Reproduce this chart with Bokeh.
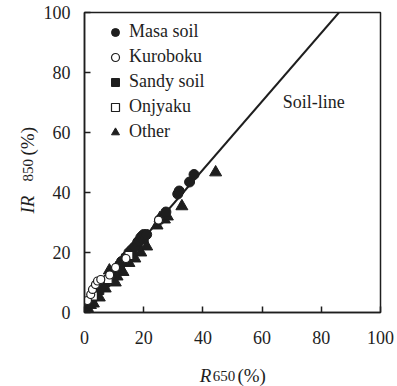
import math
from bokeh.plotting import figure
from bokeh.layouts import row, column
from bokeh.models import Label, Legend, LegendItem, FixedTicker, Range1d
from bokeh.embed import file_html
from bokeh.resources import INLINE

# Reflectance data: R650 (%) vs IR850 (%) by soil type
masa_r = [0.5, 1.5, 2.5, 4, 6, 9, 11, 12.5, 14, 15, 16, 17, 18, 18.5, 19, 19.5, 20, 21, 25.5, 27.5, 31.5, 32, 35.5, 37]
masa_ir = [2, 3, 4, 6, 8.5, 12, 15, 17, 18.5, 20, 21, 22, 23.5, 24, 25, 25.5, 26, 26, 31, 33.5, 39.5, 40.5, 43.5, 46]

kuro_r = [1, 2.1, 2.7, 3.7, 4.4, 5.5, 8.5, 10.5, 14, 25]
kuro_ir = [4, 6, 7.7, 9.3, 10.5, 11, 12.5, 15, 18, 30.8]

sandy_r = [5, 7, 10, 12, 14, 16, 18, 20]
sandy_ir = [7.5, 10, 13, 15.5, 18, 20, 22.5, 24.5]

onjyaku_r = [3, 8, 15]
onjyaku_ir = [5.5, 11, 19]

other_r = [1, 2, 3, 5, 7, 8.4, 10.4, 11, 13, 15, 17, 19, 21, 24.5, 25.5, 27, 28, 32.9, 44.3]
other_ir = [1.5, 2.5, 3, 5, 8, 14, 10, 12, 13.5, 16.5, 18, 20, 22, 29, 31.5, 31, 32, 35.4, 46.7]

# Soil line: IR = slope * R + intercept
soil_slope = 1.14
soil_intercept = 2.0

ticks = [0, 20, 40, 60, 80, 100]

FONT = "Liberation Serif"
INK = "#1e1e1e"

W, H = 397, 386
YLAB_W = 40
XLAB_H = 40
LEFT, RIGHT, TOP, BOTTOM = 42, 17, 12, 31

p = figure(width=W - YLAB_W, height=H - XLAB_H, output_backend="svg", toolbar_location=None,
           x_range=Range1d(0, 100), y_range=Range1d(0, 100),
           min_border_left=LEFT, min_border_right=RIGHT, min_border_top=TOP, min_border_bottom=BOTTOM)

p.grid.visible = False
p.outline_line_color = INK
p.outline_line_width = 1.5
p.background_fill_color = "white"
p.border_fill_color = "white"

for ax in (p.xaxis[0], p.yaxis[0]):
    ax.ticker = FixedTicker(ticks=ticks)
    ax.major_tick_in = 6
    ax.major_tick_out = 0
    ax.minor_tick_line_color = None
    ax.axis_line_color = INK
    ax.axis_line_width = 1.5
    ax.major_tick_line_color = INK
    ax.major_tick_line_width = 1.5
    ax.major_label_text_font = FONT
    ax.major_label_text_font_size = "18px"
    ax.major_label_text_color = INK
    ax.axis_label = None

p.xaxis[0].major_label_standoff = 18
p.yaxis[0].major_label_standoff = 14

# Soil line across the plotted range
line_r = [0, (100 - soil_intercept) / soil_slope]
line_ir = [soil_intercept + soil_slope * r for r in line_r]
p.line(line_r, line_ir, line_color=INK, line_width=2)

r_other = p.scatter(other_r, other_ir, marker="triangle", size=12,
                    fill_color=INK, line_color=INK)
r_sandy = p.scatter(sandy_r, sandy_ir, marker="square", size=9,
                    fill_color=INK, line_color=INK)
r_masa = p.scatter(masa_r, masa_ir, marker="circle", size=10,
                   fill_color=INK, line_color=INK)
r_onj = p.scatter(onjyaku_r, onjyaku_ir, marker="square", size=8,
                  fill_color="white", line_color=INK, line_width=1.2)
r_kuro = p.scatter(kuro_r, kuro_ir, marker="circle", size=8,
                   fill_color="white", line_color=INK, line_width=1.2)

legend_labels = ["Masa soil", "Kuroboku", "Sandy soil", "Onjyaku", "Other"]
legend = Legend(items=[LegendItem(label=lbl, renderers=[r]) for lbl, r in
                       zip(legend_labels, [r_masa, r_kuro, r_sandy, r_onj, r_other])],
                location=(21, 170), padding=0, margin=0, spacing=4,
                glyph_width=20, glyph_height=20, label_height=20, label_standoff=4,
                label_text_font=FONT, label_text_font_size="18px", label_text_color=INK,
                border_line_alpha=0, background_fill_alpha=0)
p.add_layout(legend)

p.add_layout(Label(x=67, y=70.2, text="Soil-line", text_font=FONT, text_font_size="18px",
                   text_color=INK, text_baseline="middle", text_align="left"))


def label_panel(width, height, left=0, right=0, top=0, bottom=0):
    # Blank canvas (no axes) whose data units are pixels inside its frame;
    # borders mirror the main plot so aligned frames keep the same scale
    f = figure(width=width, height=height, output_backend="svg", toolbar_location=None,
               x_range=Range1d(0, width - left - right), y_range=Range1d(0, height - top - bottom),
               x_axis_location=None, y_axis_location=None,
               min_border_left=left, min_border_right=right,
               min_border_top=top, min_border_bottom=bottom,
               outline_line_color=None)
    f.grid.visible = False
    return f


# Horizontal axis title: R650 (%)  (x measured from the plot's left axis)
xlab = label_panel(W - YLAB_W, XLAB_H, left=LEFT, right=RIGHT)
base_y = 11
xlab.add_layout(Label(x=116, y=base_y, text="R", text_font=FONT, text_font_style="italic",
                      text_font_size="19px", text_color=INK, text_baseline="alphabetic"))
xlab.add_layout(Label(x=129, y=base_y, text="650", text_font=FONT,
                      text_font_size="15px", text_color=INK, text_baseline="alphabetic"))
xlab.add_layout(Label(x=154, y=base_y, text="(%)", text_font=FONT,
                      text_font_size="19px", text_color=INK, text_baseline="alphabetic"))

# Vertical axis title: IR850 (%)  (y measured from the bottom of the page)
ylab = label_panel(YLAB_W, H, top=TOP)
ang = math.pi / 2
base_x = 27
ylab.add_layout(Label(x=base_x, y=H - 213, text="IR", text_font=FONT, text_font_style="italic",
                      text_font_size="19px", text_color=INK, text_baseline="alphabetic", angle=ang))
ylab.add_layout(Label(x=base_x, y=H - 181, text="850", text_font=FONT,
                      text_font_size="15px", text_color=INK, text_baseline="alphabetic", angle=ang))
ylab.add_layout(Label(x=base_x, y=H - 155, text="(%)", text_font=FONT,
                      text_font_size="19px", text_color=INK, text_baseline="alphabetic", angle=ang))

layout = row(ylab, column(p, xlab, spacing=0), spacing=0)

open("out.html", "w").write(file_html(layout, INLINE))
